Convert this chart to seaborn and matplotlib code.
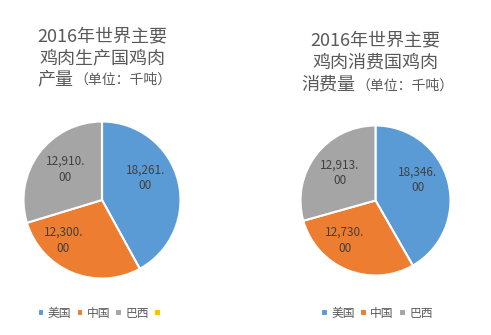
import matplotlib
matplotlib.use("Agg")
import matplotlib.pyplot as plt
import seaborn as sns
import numpy as np

sns.set_theme(style="white")
plt.rcParams['font.family'] = ['Noto Sans CJK SC', 'DejaVu Sans']

categories_left = ["美国", "中国", "巴西", ""]
production = [18261, 12300, 12910, 0]
categories_right = ["美国", "中国", "巴西"]
consumption = [18346, 12730, 12913]
colors = ["#5B9BD5", "#ED7D31", "#A5A5A5", "#FFC000"]

W, H = 491, 335
fig = plt.figure(figsize=(W / 100, H / 100), dpi=100)
fig.patch.set_facecolor("white")


def fx(px):
    return px / W


def fy(py):
    return 1 - py / H


def make_pie(cx, cy, r, values, labels, label_place, legend_x):
    ax = fig.add_axes([fx(cx - r), fy(cy + r), 2 * r / W, 2 * r / H])
    total = sum(values)

    def fmt(p):
        v = p * total / 100.0
        if v < 0.5:
            return ""
        return f"{v:,.2f}".replace(".", ".\n")

    wedges, texts, autotexts = ax.pie(
        values, colors=colors[:len(values)], startangle=90, counterclock=False,
        autopct=fmt, pctdistance=0.62,
        wedgeprops=dict(edgecolor="white", linewidth=1.5),
        textprops=dict(color="#404040", fontsize=8.5, linespacing=1.3),
    )
    # Excel-style "best fit" placement of the data labels (angle clockwise from top, radius)
    for t, (ang, dist) in zip(autotexts, label_place):
        a = np.deg2rad(ang)
        t.set_position((dist * np.sin(a), dist * np.cos(a)))
        t.set_ha("center")
        t.set_va("center")
    ax.set_xlim(-1, 1)
    ax.set_ylim(-1, 1)
    ax.set_aspect("equal")
    ax.axis("off")
    fig.legend(wedges, labels, loc="center", bbox_to_anchor=(fx(legend_x), fy(313)),
               ncol=len(values), frameon=False, fontsize=8.5,
               handlelength=0.55, handleheight=0.55, handletextpad=0.3,
               columnspacing=0.45, borderpad=0, labelcolor="#595959")
    return ax


make_pie(102, 200, 78.5, production, categories_left,
         [(63, 0.62), (224, 0.71), (310, 0.61), (0, 0)], 101)
make_pie(375.5, 200.5, 75, consumption, categories_right,
         [(64, 0.63), (218, 0.67), (308, 0.6)], 377)

tc = "#595959"
# left title
fig.text(fx(102), fy(36), "2016年世界主要", ha="center", va="center", fontsize=13, color=tc)
fig.text(fx(102), fy(58), "鸡肉生产国鸡肉", ha="center", va="center", fontsize=13, color=tc)
fig.text(fx(73), fy(79), "产量", ha="right", va="center", fontsize=13, color=tc)
fig.text(fx(74), fy(80), "（单位：千吨）", ha="left", va="center", fontsize=10, color=tc)
# right title
fig.text(fx(375), fy(40), "2016年世界主要", ha="center", va="center", fontsize=13, color=tc)
fig.text(fx(375), fy(62.5), "鸡肉消费国鸡肉", ha="center", va="center", fontsize=13, color=tc)
fig.text(fx(355), fy(84.5), "消费量", ha="right", va="center", fontsize=13, color=tc)
fig.text(fx(356), fy(85.5), "（单位：千吨）", ha="left", va="center", fontsize=10, color=tc)

fig.savefig("out.png", dpi=100)
